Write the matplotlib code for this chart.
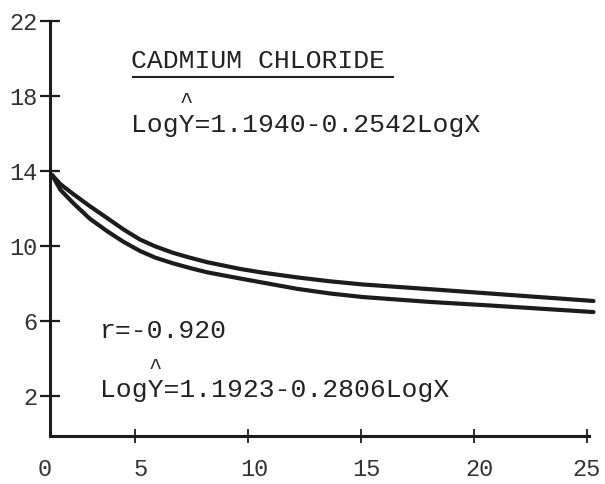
import matplotlib.pyplot as plt
from matplotlib.lines import Line2D
from matplotlib.transforms import ScaledTranslation

# concentration (x) against the two fitted response curves
dose = [1.33, 1.7, 2.26, 3.01, 3.76, 4.5, 5.22, 5.9, 6.68, 7.43, 8.19, 9.65,
        10.66, 12.17, 13.63, 15.09, 18.05, 20.58, 25.3]
upper = [13.79, 13.3, 12.78, 12.12, 11.5, 10.88, 10.35, 9.98, 9.64, 9.38, 9.14, 8.78,
         8.58, 8.33, 8.12, 7.95, 7.7, 7.48, 7.07]
lower = [13.79, 13.0, 12.3, 11.45, 10.8, 10.22, 9.74, 9.38, 9.08, 8.83, 8.6, 8.27,
         8.05, 7.72, 7.47, 7.28, 7.02, 6.84, 6.48]

yticks = [2, 6, 10, 14, 18, 22]
xticks = [5, 10, 15, 20, 25]

title = "CADMIUM CHLORIDE"
eq_upper = "LogY=1.1940-0.2542LogX"
eq_lower = "LogY=1.1923-0.2806LogX"
r_text = "r=-0.920"

ink = "#1c1c1c"
mono = "Liberation Mono"
W, H = 605, 484

fig = plt.figure(figsize=(W / 100, H / 100), dpi=100)
ax = fig.add_axes([50 / W, 1 - 436 / H, (589 - 50) / W, (436 - 21) / H])
ax.set_xlim(1.24, 25.1)
ax.set_ylim(-0.13, 22)

for ys in (upper, lower):
    ax.plot(dose, ys, color=ink, lw=3.0, solid_capstyle="round",
            solid_joinstyle="round", clip_on=False)

for side in ("top", "right"):
    ax.spines[side].set_visible(False)
for side in ("left", "bottom"):
    ax.spines[side].set_linewidth(2.2)
    ax.spines[side].set_color(ink)
    ax.spines[side].set_capstyle("projecting")

ax.set_yticks(yticks)
ax.set_xticks(xticks)
ax.tick_params(axis="y", direction="inout", length=14, width=1.6, pad=2,
               colors=ink, labelcolor="#333", labelsize=17)
ax.tick_params(axis="x", direction="inout", length=10, width=1.3, pad=11,
               colors=ink, labelcolor="#333", labelsize=17)
for lab in ax.get_xticklabels() + ax.get_yticklabels():
    lab.set_family(mono)
# typed numbers sit a little right of their ticks, except the last one
shift = ScaledTranslation(0.06, 0, fig.dpi_scale_trans)
for lab in ax.get_xticklabels()[:-1]:
    lab.set_transform(lab.get_transform() + shift)

# the origin label sits just left of the axis corner
ax.annotate("0", xy=(1.02, 0), xycoords=("data", "axes fraction"),
            xytext=(0, -16), textcoords="offset points", ha="center", va="top",
            family=mono, fontsize=17, color="#333")


def put(s, x, y, size=19, **kw):
    fig.text(x / W, 1 - y / H, s, family=mono, fontsize=size, va="baseline",
             color="#222", **kw)


put(title, 131, 68)
fig.add_artist(Line2D([133 / W, 393 / W], [1 - 77 / H] * 2, color="#222", lw=1.5))
put(eq_upper, 131, 132)
put("^", 186, 108, size=16, ha="center")
put(r_text, 100, 338)
put(eq_lower, 100, 397)
put("^", 155, 374, size=16, ha="center")

fig.savefig("out.png", dpi=100)
